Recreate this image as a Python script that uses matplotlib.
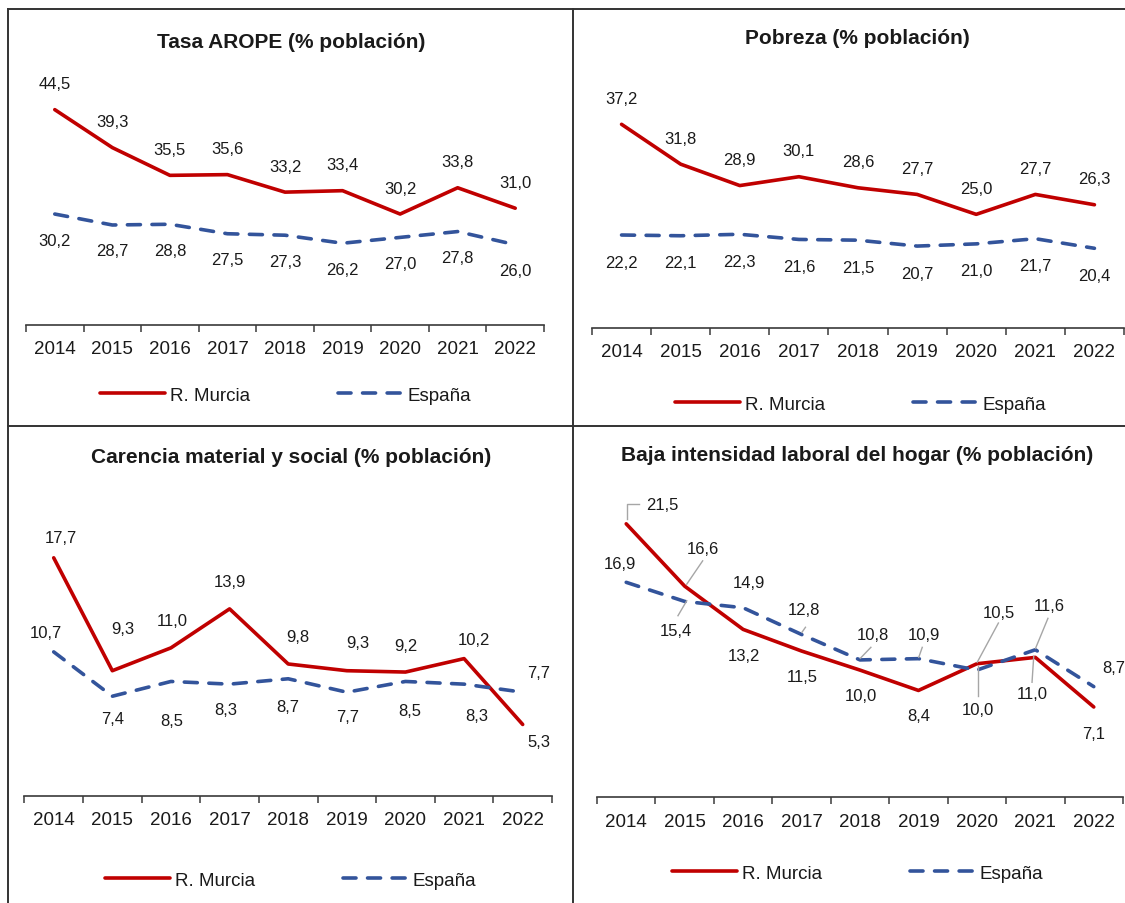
import matplotlib
matplotlib.use("Agg")
import matplotlib.pyplot as plt
from matplotlib.lines import Line2D
from matplotlib.transforms import Affine2D, ScaledTranslation

plt.rcParams['font.family'] = ['Liberation Sans', 'DejaVu Sans']

# ---------------- data ----------------
years = ["2014", "2015", "2016", "2017", "2018", "2019", "2020", "2021", "2022"]
series_names = ["R. Murcia", "España"]

titles = ["Tasa AROPE (% población)", "Pobreza (% población)",
          "Carencia material y social (% población)",
          "Baja intensidad laboral del hogar (% población)"]

arope_murcia = [44.5, 39.3, 35.5, 35.6, 33.2, 33.4, 30.2, 33.8, 31.0]
arope_espana = [30.2, 28.7, 28.8, 27.5, 27.3, 26.2, 27.0, 27.8, 26.0]

pobreza_murcia = [37.2, 31.8, 28.9, 30.1, 28.6, 27.7, 25.0, 27.7, 26.3]
pobreza_espana = [22.2, 22.1, 22.3, 21.6, 21.5, 20.7, 21.0, 21.7, 20.4]

carencia_murcia = [17.7, 9.3, 11.0, 13.9, 9.8, 9.3, 9.2, 10.2, 5.3]
carencia_espana = [10.7, 7.4, 8.5, 8.3, 8.7, 7.7, 8.5, 8.3, 7.7]

baja_murcia = [21.5, 16.6, 13.2, 11.5, 10.0, 8.4, 10.5, 11.0, 7.1]
baja_espana = [16.9, 15.4, 14.9, 12.8, 10.8, 10.9, 10.0, 11.6, 8.7]

# ---------------- layout / style ----------------
W, H = 1125, 904
RED = '#C00000'
BLUE = '#33549B'
TXT = '#1a1a1a'
GRAY = '#A6A6A6'

fig = plt.figure(figsize=(W / 100, H / 100), dpi=100)


def fx(x):
    return x / W


def fy(y):
    return 1 - y / H


# panel geometry in pixels: x0, x1, axis y, y-min value, px per unit, top px
panels = [
    dict(x0=26, x1=544, yb=326, vmin=15, slope=7.30, top=60,
         title_xy=(291, 43), leg=(100, 396)),
    dict(x0=592, x1=1124, yb=329, vmin=9.6, slope=7.38, top=60,
         title_xy=(857, 38), leg=(675, 405)),
    dict(x0=24.4, x1=552, yb=796.7, vmin=0, slope=13.44, top=480,
         title_xy=(291, 458), leg=(105, 881)),
    dict(x0=597, x1=1123, yb=798.3, vmin=0, slope=12.72, top=480,
         title_xy=(857, 456), leg=(672, 874)),
]

datasets = [
    (arope_murcia, arope_espana),
    (pobreza_murcia, pobreza_espana),
    (carencia_murcia, carencia_espana),
    (baja_murcia, baja_espana),
]

# label offsets in pixels (dx right, dy down)
off_p1 = ([(0, -26)] * 9, [(0, 26)] * 9)
off_p2 = ([(0, -26)] * 9, [(0, 27)] * 9)
off_p3 = ([(7, -20), (10, -42), (1, -27), (0, -27), (10, -27), (11, -28), (0, -27), (10, -19), (16, 17)],
          [(-8, -19), (0, 22), (1, 39), (-4, 25), (0, 28), (1, 24), (4, 29), (13, 31), (16, -20)])
off_p4 = ([(36.5, -19.8), (18, -37.7), (0.9, 26.3), (0.4, 25.7), (1, 25.7), (0.3, 25.2),
           (21.5, -51.4), (-3.3, 36.6), (-0.5, 27)],
          [(-6.6, -19.3), (-8.5, 28.6), (5.7, -24.8), (2.8, -24.8), (12.7, -25.9), (5.6, -24.6),
           (1, 39.7), (14.3, -44), (19.7, -19.3)])
offsets = [off_p1, off_p2, off_p3, off_p4]

leaders_p4 = (
    {0: [(0.4, -4.8), (0.4, -19.8), (12.8, -19.8)],
     1: [(2.1, -2), (18, -25.3)],
     6: [(0.3, -1.4), (21.5, -40.7)],
     7: [(-1.6, -1.1), (-3.3, 24.9)]},
    {1: [(2.1, -0.7), (-6.7, 14.3)],
     3: [(0.4, -2.2), (3.9, -7.2)],
     4: [(0.3, -1.6), (10.9, -12.6)],
     5: [(0.3, -1.3), (3.8, -11.3)],
     6: [(1, -4.3), (1, 25.7)],
     7: [(0.2, -1.4), (12.6, -31.4)]},
)
leaders = [({}, {}), ({}, {}), ({}, {}), leaders_p4]

LW = 2.6
x = list(range(len(years)))


def fmt(v):
    return f"{v:.1f}".replace('.', ',')


for p, (mur, esp), offs, leads, title in zip(panels, datasets, offsets, leaders, titles):
    left, right = fx(p['x0']), fx(p['x1'])
    bottom, top = fy(p['yb']), fy(p['top'])
    ax = fig.add_axes([left, bottom, right - left, top - bottom])
    ax.set_xlim(-0.5, len(years) - 0.5)
    vmax = p['vmin'] + (p['yb'] - p['top']) / p['slope']
    ax.set_ylim(p['vmin'], vmax)

    l1, = ax.plot(x, mur, color=RED, lw=LW, solid_capstyle='round', solid_joinstyle='round', zorder=3)
    l2, = ax.plot(x, esp, color=BLUE, lw=LW, dashes=(3.6, 3.2), dash_capstyle='round',
                  dash_joinstyle='round', zorder=4)

    for vals, off, lead in zip((mur, esp), offs, leads):
        for i, v in enumerate(vals):
            dx, dy = off[i]
            ax.annotate(fmt(v), (i, v), xytext=(dx, -dy), textcoords='offset pixels',
                        ha='center', va='center', fontsize=12, color=TXT, zorder=6)
            if i in lead:
                pts = lead[i]
                tr = Affine2D() + ScaledTranslation(i, v, ax.transData)
                ax.plot([q[0] for q in pts], [-q[1] for q in pts], color=GRAY, lw=1.0,
                        transform=tr, zorder=5, clip_on=False)

    for s in ['top', 'right', 'left']:
        ax.spines[s].set_visible(False)
    ax.spines['bottom'].set_color('#3a3a3a')
    ax.spines['bottom'].set_linewidth(1.2)
    ax.set_yticks([])
    ax.set_xticks(x)
    ax.set_xticklabels(years, fontsize=13.5, color=TXT)
    ax.tick_params(axis='x', which='major', length=0, pad=11)
    ax.set_xticks([i - 0.5 for i in range(len(years) + 1)], minor=True)
    ax.tick_params(axis='x', which='minor', length=5, width=1.1, color='#3a3a3a', direction='out')
    ax.patch.set_alpha(0)

    fig.text(fx(p['title_xy'][0]), fy(p['title_xy'][1]), title, ha='center', va='center',
             fontsize=15, fontweight='bold', color=TXT)

    ax.legend([l1, l2], series_names, loc='center left',
              bbox_to_anchor=(fx(p['leg'][0]), fy(p['leg'][1])), bbox_transform=fig.transFigure,
              ncol=2, frameon=False, fontsize=13.5, handlelength=3.47, handletextpad=0.25,
              columnspacing=4.7, borderpad=0, borderaxespad=0, labelcolor=TXT)

# panel borders
for (xa, ya, xb, yb) in [(8, 10, W, 10), (8, 10, 8, H), (573, 10, 573, H), (8, 427, W, 427)]:
    fig.add_artist(Line2D([fx(xa), fx(xb)], [fy(ya), fy(yb)], color='#333333', lw=1.4))

fig.savefig("out.png", dpi=100)
